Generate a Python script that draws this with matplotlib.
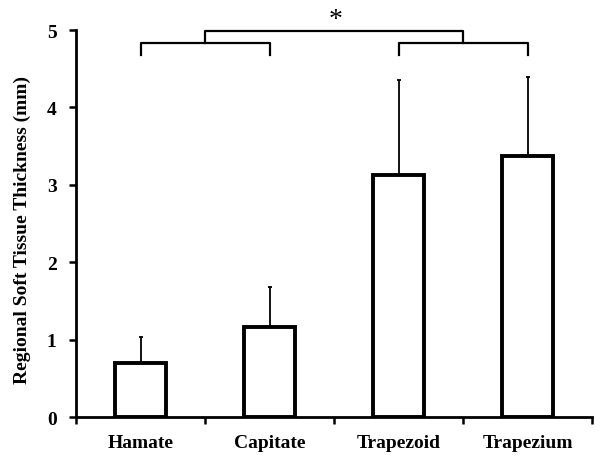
import matplotlib
matplotlib.use("Agg")
import matplotlib.pyplot as plt
import numpy as np

# data
regions = ["Hamate", "Capitate", "Trapezoid", "Trapezium"]
thickness = [0.70, 1.16, 3.13, 3.37]
sd = [0.33, 0.52, 1.22, 1.02]

plt.rcParams['font.family'] = ['Liberation Serif', 'DejaVu Serif']
plt.rcParams['font.weight'] = 'bold'

fig = plt.figure(figsize=(6, 4.6), dpi=100)
ax = fig.add_axes([0.1267, 0.0913, 0.86, 0.8413])

x = np.arange(len(regions))
ax.bar(x, thickness, width=0.4, color='white', edgecolor='black', linewidth=2.8, zorder=2)
ax.errorbar(x, thickness, yerr=[np.zeros(len(sd)), sd], fmt='none', ecolor='black',
            elinewidth=1.3, capsize=1.5, capthick=1.3, zorder=1)

ax.set_xlim(-0.5, len(regions) - 0.5)
ax.set_ylim(0, 5)
ax.set_yticks(range(6))
ax.tick_params(axis='y', direction='out', length=5, width=1.8, labelsize=14, pad=9)

# category boundaries as ticks, labels centred on bars
ax.set_xticks(np.arange(-0.5, len(regions)), minor=False)
ax.set_xticklabels([])
ax.set_xticks(x, minor=True)
ax.set_xticklabels(regions, minor=True, fontsize=14)
ax.tick_params(axis='x', which='major', direction='out', length=5, width=1.8)
ax.tick_params(axis='x', which='minor', length=0, pad=12)

for s in ['top', 'right']:
    ax.spines[s].set_visible(False)
for s in ['left', 'bottom']:
    ax.spines[s].set_linewidth(2)

ax.set_ylabel("Regional Soft Tissue Thickness (mm)", fontsize=14, fontweight='bold')
ax.yaxis.set_label_coords(-0.087, 0.486)

# significance brackets
lw = 1.6
def bracket(a, b, y, leg):
    ax.plot([a, a, b, b], [y - leg, y, y, y - leg], color='black', lw=lw, clip_on=False)

bracket(x[0], x[1], 4.83, 0.15)
bracket(x[2], x[3], 4.83, 0.15)
bracket((x[0] + x[1]) / 2, (x[2] + x[3]) / 2, 4.99, 0.16)
ax.text((x[0] + x[1] + x[2] + x[3]) / 4 + 0.01, 4.98, "*", ha='center', va='bottom',
        fontsize=20, fontweight='normal')

fig.savefig("out.png", dpi=100)
